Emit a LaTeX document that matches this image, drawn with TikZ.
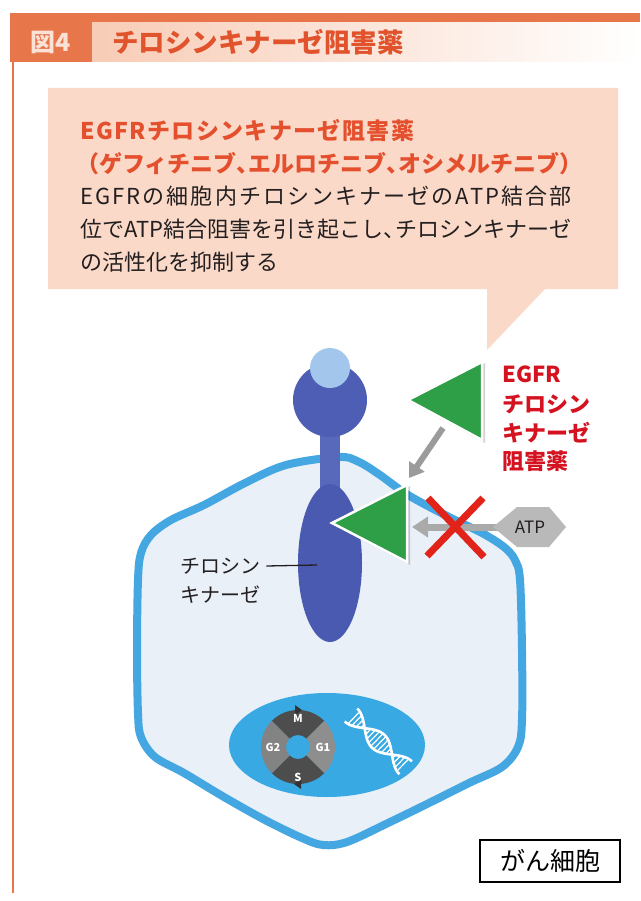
\documentclass[tikz,border=0pt]{standalone}
\usepackage{fontspec}
\setmainfont{Noto Sans CJK JP}
\usetikzlibrary{arrows.meta}
\definecolor{hdrorange}{HTML}{E8764B}
\definecolor{hdrtext}{HTML}{FBE2D6}
\definecolor{titlebg}{HTML}{F8CCB6}
\definecolor{titletext}{HTML}{E0532C}
\definecolor{calloutbg}{HTML}{FAD9C8}
\definecolor{headtext}{HTML}{E4502E}
\definecolor{bodytext}{HTML}{231F20}
\definecolor{drugred}{HTML}{D51220}
\definecolor{cellline}{HTML}{45A7E2}
\definecolor{cellfill}{HTML}{E9F0F8}
\definecolor{nucleus}{HTML}{38A9E3}
\definecolor{rcpdark}{HTML}{4E5EB4}
\definecolor{rcpstem}{HTML}{5869BC}
\definecolor{rcplight}{HTML}{A3C7EC}
\definecolor{kinase}{HTML}{4A5AB0}
\definecolor{druggreen}{HTML}{2E9E47}
\definecolor{arrowgray}{HTML}{9B9B9B}
\definecolor{atpgray}{HTML}{B9B9B9}
\definecolor{blockred}{HTML}{E2231A}
\definecolor{cycdark}{HTML}{4D4D4D}
\definecolor{cyclight}{HTML}{8E8E8E}
% half-width comma for the justified Japanese lines
\newcommand{\hcomma}{、\kern-0.45em}
\begin{document}
\begin{tikzpicture}[x=1pt,y=-1pt,
  fs/.style={font=\fontsize{#1}{#1}\selectfont},
  fsb/.style={font=\fontsize{#1}{#1}\selectfont\bfseries},
  txt/.style={inner sep=0pt, anchor=west},
  headline/.style={txt, fsb=23, text=headtext},
  bodyline/.style={txt, fs=22, text=bodytext},
  druglabel/.style={txt, fsb=22, text=drugred},
  drug/.style={fill=druggreen, draw=white, line width=2.5, line join=miter},
  drugshadow/.style={fill=black, opacity=0.18},
  cyclabel/.style={inner sep=0pt, fsb=11, text=white},
  dnastrand/.style={white, line width=2.6},
  dnarung/.style={white, line width=1.2}]
\useasboundingbox (0,0) rectangle (640,901);
\fill[white] (0,0) rectangle (640,901);

% ---- header bar ----
\shade[left color=titlebg, right color=white] (92,22) rectangle (640,62);
\fill[hdrorange] (10,13) rectangle (640,22);
\fill[hdrorange] (10,13) rectangle (92,62);
\node[inner sep=0pt, fsb=25, text=hdrtext] (fig) at (51,42) {図4};
\node[txt, fsb=26.5, text=titletext] (title) at (112,42) {チロシンキナーゼ阻害薬};
\draw[hdrorange, line width=1.3] (13,62) -- (13,893);

% ---- callout ----
\fill[calloutbg] (48,88) -- (618,88) -- (618,289) -- (545,289) -- (487,350) -- (487,289) -- (48,289) -- cycle;
\node[headline] (h1) at (80,130) {\addfontfeatures{LetterSpace=6}EGFRチロシンキナーゼ阻害薬};
\node[headline] (h2) at (76,164) {（ゲフィチニブ\hcomma エルロチニブ\hcomma オシメルチニブ）};
\node[bodyline] (b1) at (80,196) {\addfontfeatures{LetterSpace=9.5}EGFRの細胞内チロシンキナーゼのATP結合部};
\node[bodyline] (b2) at (80,229) {位でATP結合阻害を引き起こし\hcomma チロシンキナーゼ};
\node[bodyline] (b3) at (80,262) {の活性化を抑制する};

% ---- cell ----
\draw[cellline, fill=cellfill, line width=8] plot[smooth cycle, tension=0.55] coordinates {
  (339,457) (286,465) (245,483) (204,505) (171,520) (151,535) (141,553)
  (138,580) (137,650) (138,713) (141,737) (155,757) (184,773) (224,797)
  (265,820) (302,838) (323,845) (347,842) (388,823) (429,803) (469,783)
  (502,767) (518,747) (522,720) (522,650) (520,580) (515,560) (504,547)
  (482,533) (449,517) (408,495) (380,475) (359,462)};

% ---- nucleus ----
\fill[nucleus] (327,745) ellipse[x radius=98, y radius=52];
\begin{scope}[shift={(298,747)}]
  \fill[cycdark]  (225:37) arc[start angle=225, end angle=315, radius=37] -- (315:12) arc[start angle=315, end angle=225, radius=12] -- cycle;
  \fill[cyclight] (-45:37) arc[start angle=-45, end angle=45, radius=37] -- (45:12) arc[start angle=45, end angle=-45, radius=12] -- cycle;
  \fill[cycdark]  (45:37) arc[start angle=45, end angle=135, radius=37] -- (135:12) arc[start angle=135, end angle=45, radius=12] -- cycle;
  \fill[cyclight!110!white] (135:37) arc[start angle=135, end angle=225, radius=37] -- (225:12) arc[start angle=225, end angle=135, radius=12] -- cycle;
  \fill[black!80] (-3,-42) -- (4,-37) -- (-3,-32) -- cycle;
  \fill[black!80] (3,42) -- (-4,37) -- (3,32) -- cycle;
  \node[cyclabel] (cm) at (0,-29) {M};
  \node[cyclabel] (cg1) at (25,0) {G1};
  \node[cyclabel] (cs) at (0,30) {S};
  \node[cyclabel] (cg2) at (-25,0) {G2};
\end{scope}
\begin{scope}[shift={(351,715)}, rotate=-44]
  \foreach \u in {4,8,...,72} \draw[dnarung] (\u,{9*cos(\u*180/38)}) -- (\u,{-9*cos(\u*180/38)});
  \draw[dnastrand] plot[domain=0:76, samples=40, smooth] (\x,{9*cos(\x*180/38)});
  \draw[dnastrand] plot[domain=0:76, samples=40, smooth] (\x,{-9*cos(\x*180/38)});
\end{scope}

% ---- EGF receptor ----
\fill[rcpstem] (320,430) rectangle (340,492);
\fill[rcpdark] (330,400) circle[radius=37];
\fill[rcplight] (330,368) circle[radius=20];
\fill[kinase] (330,563) ellipse[x radius=32, y radius=79];
\node[txt, fs=20, text=bodytext] (tk1) at (180,566) {チロシン};
\node[txt, fs=20, text=bodytext] (tk2) at (180,595) {キナーゼ};
\coordinate (tkend) at (317,565);
\draw[bodytext, line width=1.3] ([xshift=6pt]tk1.east) -- (tkend);

% ---- ATP (blocked) ----
\coordinate (atparrowtip) at (412,527);
\draw[arrowgray!85!white, line width=7, -{Triangle[length=16, width=20]}] (500,527) -- (atparrowtip);
\fill[atpgray] (493,527) -- (517,507) -- (549,507) -- (566,527) -- (549,547) -- (517,547) -- cycle;
\node[inner sep=0pt, fs=17, text=bodytext] (atp) at (530,527) {ATP};

% ---- inhibitor molecules ----
\fill[drugshadow] (409,402) -- (485,363) -- (485,443) -- cycle;
\filldraw[drug] (408,400) -- (482,362) -- (482,440) -- cycle;
\coordinate (drugout) at (443,428);
\coordinate (drugin) at (409,478);
\draw[arrowgray, line width=6, -{Triangle[length=14, width=18]}] (drugout) -- (drugin);
\fill[drugshadow] (333,525) -- (410,486) -- (410,565) -- cycle;
\filldraw[drug] (332,523) -- (407,485) -- (407,562) -- cycle;

% ---- block mark ----
\draw[blockred, line width=7] (428,498) -- (484,557);
\draw[blockred, line width=7] (483,498) -- (427,556);

% ---- inhibitor label ----
\node[druglabel] (d1) at (502,374) {EGFR};
\node[druglabel] (d2) at (502,404) {チロシン};
\node[druglabel] (d3) at (502,433) {キナーゼ};
\node[druglabel] (d4) at (502,461) {阻害薬};

% ---- cell label ----
\node[draw=black, line width=1.5, fs=25, text=black, minimum width=140, minimum height=42, inner sep=0pt] (cancer) at (550,861) {がん細胞};
\end{tikzpicture}
\end{document}
